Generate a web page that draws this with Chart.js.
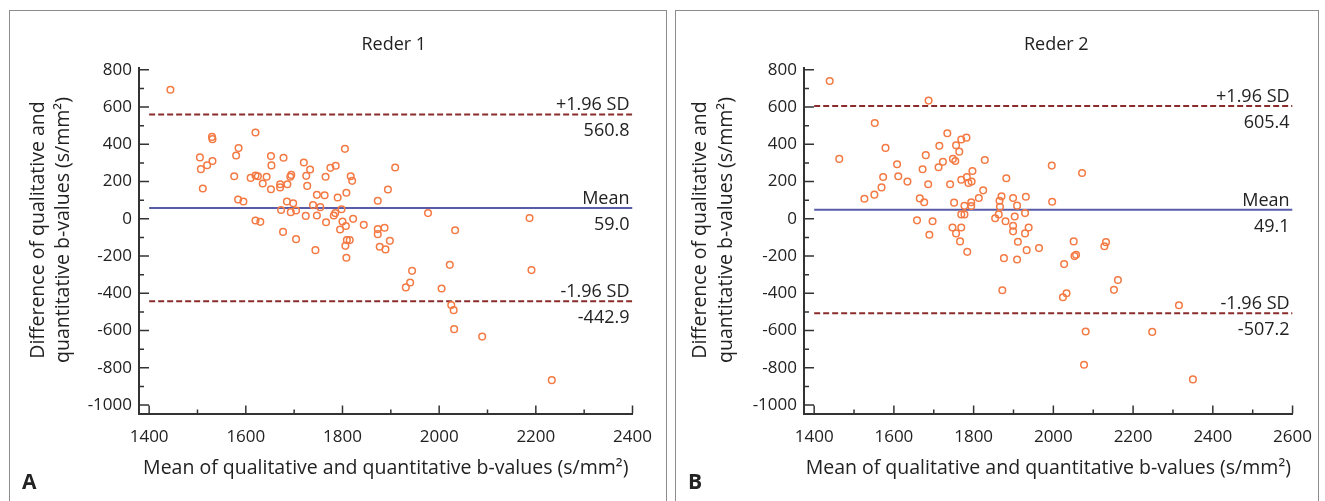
<!DOCTYPE html>
<html>
<head>
<meta charset="utf-8">
<script src="https://cdn.jsdelivr.net/npm/chart.js@4.4.0/dist/chart.umd.min.js"></script>
<style>
  body { margin: 0; background: #fff; width: 1325px; height: 501px; overflow: hidden; position: relative; }
  .panel { position: absolute; top: 10px; height: 530px; border: 1.5px solid #8c8c8c; box-sizing: border-box; }
  #panelA { left: 9px; width: 658px; }
  #panelB { left: 675px; width: 644px; }
  canvas { position: absolute; top: 0; }
  #chartA { left: 0; }
  #chartB { left: 670px; }
</style>
</head>
<body>
<div class="panel" id="panelA"></div>
<div class="panel" id="panelB"></div>
<canvas id="chartA" width="670" height="501"></canvas>
<canvas id="chartB" width="655" height="501"></canvas>
<script>
// Reader 1 : mean of the two b-values (x) and their difference (y)
const meanA = [1444, 1530, 1531, 1620, 1505, 1507, 1520, 1531, 1511, 1585, 1580, 1576, 1584, 1595, 1610, 1620,
  1625, 1643, 1635, 1652, 1653, 1652, 1678, 1671, 1671, 1686, 1692, 1694, 1720, 1733, 1725, 1727,
  1775, 1786, 1765, 1805, 1817, 1820, 1808, 1790, 1747, 1763, 1685, 1698, 1673, 1693, 1704, 1739,
  1754, 1724, 1747, 1798, 1785, 1782, 1766, 1800, 1807, 1822, 1844, 1795, 1873, 1894, 1873, 1887,
  1620, 1630, 1677, 1704, 1744, 1808, 1806, 1809, 1815, 1873, 1877, 1889, 1898, 1909, 1977, 2187,
  2033, 1944, 1940, 1931, 2022, 2005, 2025, 2030, 2031, 2089, 2233, 2191];
const diffA = [693, 440, 428, 464, 330, 267, 288, 311, 163, 380, 340, 229, 104, 93, 220, 233,
  229, 226, 190, 337, 287, 159, 328, 186, 169, 186, 226, 236, 303, 265, 231, 177,
  274, 285, 226, 376, 229, 204, 140, 115, 129, 127, 93, 84, 48, 36, 45, 74,
  63, 16, 18, 52, 31, 18, -18, -14, -38, 0, -32, -57, 97, 158, -55, -48,
  -9, -16, -70, -109, -168, -209, -145, -114, -114, -82, -150, -164, -118, 276, 31, 4,
  -61, -279, -342, -368, -247, -374, -463, -490, -592, -632, -866, -275];

// Reader 2
const meanB = [1439, 1687, 1463, 1552, 1579, 1526, 1551, 1569, 1573, 1608, 1611, 1634, 1665, 1676, 1672, 1680,
  1686, 1658, 1697, 1689, 1734, 1714, 1712, 1723, 1741, 1751, 1748, 1754, 1756, 1764, 1769, 1782,
  1769, 1783, 1787, 1795, 1797, 1828, 1824, 1813, 1794, 1777, 1794, 1769, 1777, 1747, 1769, 1756,
  1882, 1870, 1865, 1866, 1899, 1931, 1909, 1863, 1854, 1903, 1929, 1880, 1899, 1899, 1938, 1929,
  1766, 1784, 1876, 1909, 1872, 1911, 1933, 1964, 1997, 1996, 2072, 2051, 2027, 2053, 2057, 2132,
  2128, 2162, 2152, 2024, 2033, 2315, 2081, 2248, 2077, 2350];
const diffB = [740, 635, 322, 515, 381, 108, 130, 169, 225, 293, 229, 200, 110, 89, 266, 342,
  186, -8, -13, -85, 460, 392, 277, 307, 186, 87, 322, 311, 395, 361, 426, 436,
  210, 225, 193, 200, 257, 316, 153, 112, 89, 70, 69, 24, 24, -46, -46, -78,
  218, 121, 97, 65, 112, 119, 71, 24, 3, 13, 31, -13, -37, -67, -46, -78,
  -121, -177, -211, -218, -383, -123, -168, -157, 92, 286, 246, -121, -243, -200, -193, -125,
  -147, -328, -381, -421, -399, -464, -605, -607, -783, -862];

// limits of agreement: +1.96 SD, mean, -1.96 SD
const limitNames = ['+1.96 SD', 'Mean', '-1.96 SD'];
const limitsA = [560.8, 59.0, -442.9];
const limitsB = [605.4, 49.1, -507.2];

const yTicks = [-1000, -800, -600, -400, -200, 0, 200, 400, 600, 800];
const xTicksA = [1400, 1600, 1800, 2000, 2200, 2400];
const xTicksB = [1400, 1600, 1800, 2000, 2200, 2400, 2600];
const yTitle = ['Difference of qualitative and', 'quantitative b-values (s/mm\u00b2)'];

const FONT = '"Open Sans", sans-serif';
Chart.defaults.font.family = FONT;
Chart.defaults.font.size = 17;
Chart.defaults.color = '#222';

// ticks point inwards and have minor ticks between the labelled ones
const decorPlugin = {
  id: 'decor',
  afterDraw(chart, args, opts) {
    const { ctx, chartArea, scales: { x, y } } = chart;
    ctx.save();
    ctx.strokeStyle = '#333';
    ctx.lineWidth = 1.5;
    ctx.beginPath();
    yTicks.forEach((v, i) => {
      const py = y.getPixelForValue(v);
      ctx.moveTo(chartArea.left, py);
      ctx.lineTo(chartArea.left + 10, py);
      if (i < yTicks.length - 1) {
        const pm = y.getPixelForValue((v + yTicks[i + 1]) / 2);
        ctx.moveTo(chartArea.left, pm);
        ctx.lineTo(chartArea.left + 5, pm);
      }
    });
    opts.xTicks.forEach((v, i) => {
      const px = x.getPixelForValue(v);
      ctx.moveTo(px, chartArea.bottom);
      ctx.lineTo(px, chartArea.bottom - 8);
      if (i < opts.xTicks.length - 1) {
        const pm = x.getPixelForValue((v + opts.xTicks[i + 1]) / 2);
        ctx.moveTo(pm, chartArea.bottom);
        ctx.lineTo(pm, chartArea.bottom - 4);
      }
    });
    ctx.stroke();

    // labels of the reference lines
    ctx.fillStyle = '#222';
    ctx.font = '18px ' + FONT;
    ctx.textAlign = 'right';
    ctx.textBaseline = 'alphabetic';
    const rx = x.getPixelForValue(opts.xTicks[opts.xTicks.length - 1]) - 3;
    opts.limits.forEach((v, i) => {
      const py = y.getPixelForValue(v);
      ctx.fillText(limitNames[i], rx, py - 4);
      ctx.fillText(v.toFixed(1), rx, py + 22);
    });

    // panel title
    ctx.textAlign = 'center';
    ctx.textBaseline = 'middle';
    ctx.fillText(opts.title, (chartArea.left + chartArea.right) / 2 + 8, 45);

    // y axis title, two rotated lines
    ctx.font = '19.5px ' + FONT;
    opts.yTitleX.forEach((tx, i) => {
      ctx.save();
      ctx.translate(tx, 230);
      ctx.rotate(-Math.PI / 2);
      ctx.fillText(yTitle[i], 0, 0);
      ctx.restore();
    });

    // panel letter
    ctx.font = 'bold 21px ' + FONT;
    ctx.textAlign = 'left';
    ctx.fillText(opts.letter, opts.letterX, 483);
    ctx.restore();
  }
};

function refLine(xs, value, color, dash) {
  return {
    type: 'line',
    data: [{ x: xs[0], y: value }, { x: xs[xs.length - 1], y: value }],
    borderColor: color,
    borderWidth: 2,
    borderDash: dash,
    pointRadius: 0,
    order: 2
  };
}

function makeChart(id, xs, ys, limits, xTicks, xMin, axisWidth, padRight, yTitleX, title, letter, letterX) {
  const points = xs.map((v, i) => ({ x: v, y: ys[i] }));
  return new Chart(document.getElementById(id), {
    type: 'scatter',
    data: {
      datasets: [
        {
          data: points,
          pointStyle: 'circle',
          pointRadius: 3.3,
          borderWidth: 1.5,
          borderColor: '#f47a44',
          backgroundColor: 'rgba(255,255,255,0)',
          order: 1
        },
        refLine(xTicks, limits[0], '#8b2c2c', [6, 3]),
        refLine(xTicks, limits[1], '#585ca8', []),
        refLine(xTicks, limits[2], '#8b2c2c', [6, 3])
      ]
    },
    options: {
      responsive: false,
      animation: false,
      events: [],
      layout: { padding: { top: 68, right: padRight, left: 0, bottom: 0 } },
      plugins: {
        legend: { display: false },
        tooltip: { enabled: false },
        decor: { xTicks: xTicks, limits: limits, title: title, letter: letter, letterX: letterX, yTitleX: yTitleX }
      },
      scales: {
        x: {
          type: 'linear',
          min: xMin,
          max: xTicks[xTicks.length - 1],
          afterBuildTicks: s => { s.ticks = xTicks.map(v => ({ value: v })); },
          afterFit: s => { s.height = 87.5; },
          grid: { display: false, drawTicks: false },
          border: { display: true, color: '#333', width: 2 },
          ticks: { padding: 13, maxRotation: 0, font: { size: 17 }, callback: v => String(v) },
          title: {
            display: true,
            text: ['Mean of qualitative and quantitative b-values (s/mm\u00b2)'],
            font: { size: 19.5, lineHeight: 1.2 },
            padding: { top: 0, bottom: 21.3 }
          }
        },
        y: {
          min: -1045,
          max: 810,
          afterBuildTicks: s => { s.ticks = yTicks.map(v => ({ value: v })); },
          afterFit: s => { s.width = axisWidth; },
          grid: { display: false, drawTicks: false },
          border: { display: true, color: '#333', width: 2 },
          ticks: { padding: 7, font: { size: 17 }, callback: v => String(v) },
          title: { display: false }
        }
      }
    },
    plugins: [decorPlugin]
  });
}

makeChart('chartA', meanA, diffA, limitsA, xTicksA, 1379, 139, 37.5, [38, 63], 'Reder 1', 'A', 22);
makeChart('chartB', meanB, diffB, limitsB, xTicksB, 1374.5, 134, 26.5, [30, 56], 'Reder 2', 'B', 18);
</script>
</body>
</html>
